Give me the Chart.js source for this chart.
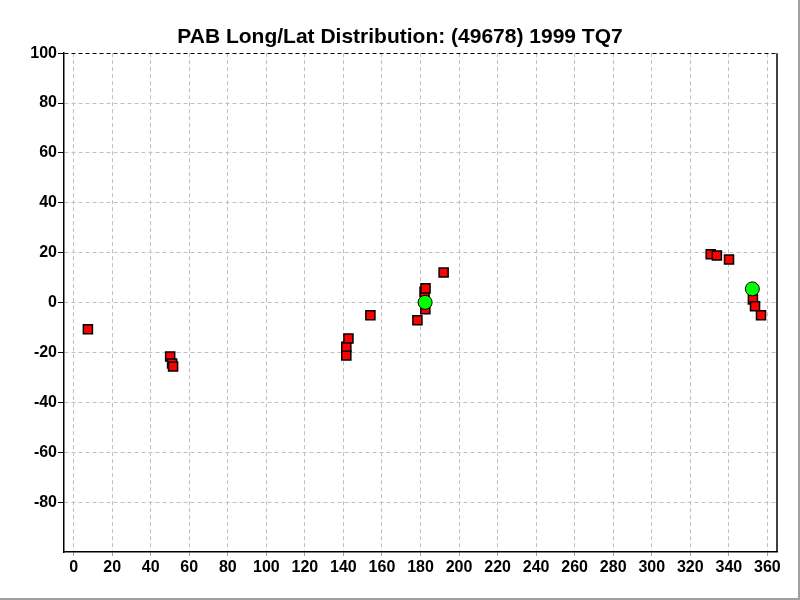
<!DOCTYPE html>
<html>
<head>
<meta charset="utf-8">
<script src="https://cdn.jsdelivr.net/npm/chart.js@4/dist/chart.umd.min.js"></script>
<style>
  html, body { margin: 0; padding: 0; background: #fff; }
  #wrap { width: 800px; height: 600px; }
</style>
</head>
<body>
<div id="wrap"><canvas id="plot" width="800" height="600"></canvas></div>
<script>
// observation positions (longitude, latitude)
const squareLon = [7.4, 50.1, 51.1, 51.6, 141.5, 141.5, 142.6, 154.0, 178.4, 182.1, 182.6, 182.5, 192.0, 330.6, 333.8, 340.1, 352.5, 353.6, 356.7];
const squareLat = [-10.7, -21.6, -24.4, -25.6, -21.2, -17.7, -14.4, -5.1, -7.1, 4.3, 5.7, -2.7, 12.1, 19.4, 18.9, 17.3, 1.3, -1.5, -5.1];
const circleLon = [182.4, 352.2];
const circleLat = [0.1, 5.5];

const xTicks = [0, 20, 40, 60, 80, 100, 120, 140, 160, 180, 200, 220, 240, 260, 280, 300, 320, 340, 360];
const yTicks = [100, 80, 60, 40, 20, 0, -20, -40, -60, -80];

const toPoints = (xs, ys) => xs.map((x, i) => ({ x: x, y: ys[i] }));

// right edge of the plot and outer window border
const framePlugin = {
    id: 'frame',
    afterDraw(chart) {
        const { ctx, chartArea } = chart;
        ctx.save();
        ctx.strokeStyle = '#000';
        ctx.lineWidth = 1.5;
        ctx.beginPath();
        ctx.moveTo(chartArea.right, chartArea.top);
        ctx.lineTo(chartArea.right, chartArea.bottom);
        ctx.stroke();
        ctx.strokeStyle = '#a0a0a0';
        ctx.lineWidth = 2;
        ctx.beginPath();
        ctx.moveTo(799, 0);
        ctx.lineTo(799, 599);
        ctx.lineTo(0, 599);
        ctx.stroke();
        ctx.restore();
    }
};

const tickFont = { family: '"Liberation Sans", Arial, sans-serif', size: 16, weight: 'bold' };

new Chart(document.getElementById('plot').getContext('2d'), {
    type: 'scatter',
    data: {
        datasets: [{
            label: 'current',
            data: toPoints(circleLon, circleLat),
            pointStyle: 'circle',
            pointRadius: 7,
            pointBackgroundColor: '#00ff00',
            pointBorderColor: '#000',
            pointBorderWidth: 1,
            order: 0
        }, {
            label: 'observed',
            data: toPoints(squareLon, squareLat),
            pointStyle: 'rect',
            pointRadius: 6.4,
            pointBackgroundColor: '#ff0000',
            pointBorderColor: '#000',
            pointBorderWidth: 1.5,
            order: 1
        }]
    },
    plugins: [framePlugin],
    options: {
        responsive: false,
        animation: false,
        layout: { padding: 0 },
        plugins: {
            legend: { display: false },
            tooltip: { enabled: false },
            title: {
                display: true,
                text: 'PAB Long/Lat Distribution: (49678) 1999 TQ7',
                color: '#000',
                font: { family: '"Liberation Sans", Arial, sans-serif', size: 21, weight: 'bold' },
                padding: { top: 25, bottom: 3 }
            }
        },
        scales: {
            x: {
                type: 'linear',
                min: -5,
                max: 365,
                afterBuildTicks: s => { s.ticks = xTicks.map(v => ({ value: v })); },
                afterFit: s => { s.height = 48; },
                border: { display: true, color: '#000', width: 1.5, dash: [4, 3] },
                grid: {
                    color: '#c0c0c0',
                    lineWidth: 1,
                    tickLength: 4,
                    tickColor: '#a0a0a0'
                },
                ticks: { color: '#000', font: tickFont, padding: 2, maxRotation: 0, autoSkip: false }
            },
            y: {
                type: 'linear',
                min: -100,
                max: 100,
                afterBuildTicks: s => { s.ticks = yTicks.map(v => ({ value: v })); },
                afterFit: s => { s.width = 64; },
                border: { display: true, color: '#000', width: 1.5, dash: [4, 3] },
                grid: {
                    color: c => (c.tick && c.tick.value === 100 ? '#000' : '#c0c0c0'),
                    lineWidth: 1,
                    tickLength: 6,
                    tickColor: '#000'
                },
                ticks: { color: '#000', font: tickFont, padding: 1, autoSkip: false }
            },
            // empty right-hand axis that only reserves the margin
            yRight: {
                type: 'linear',
                position: 'right',
                min: -100,
                max: 100,
                afterFit: s => { s.width = 23; },
                border: { display: false },
                grid: { display: false, drawTicks: false },
                ticks: { display: false }
            }
        }
    }
});
</script>
</body>
</html>
